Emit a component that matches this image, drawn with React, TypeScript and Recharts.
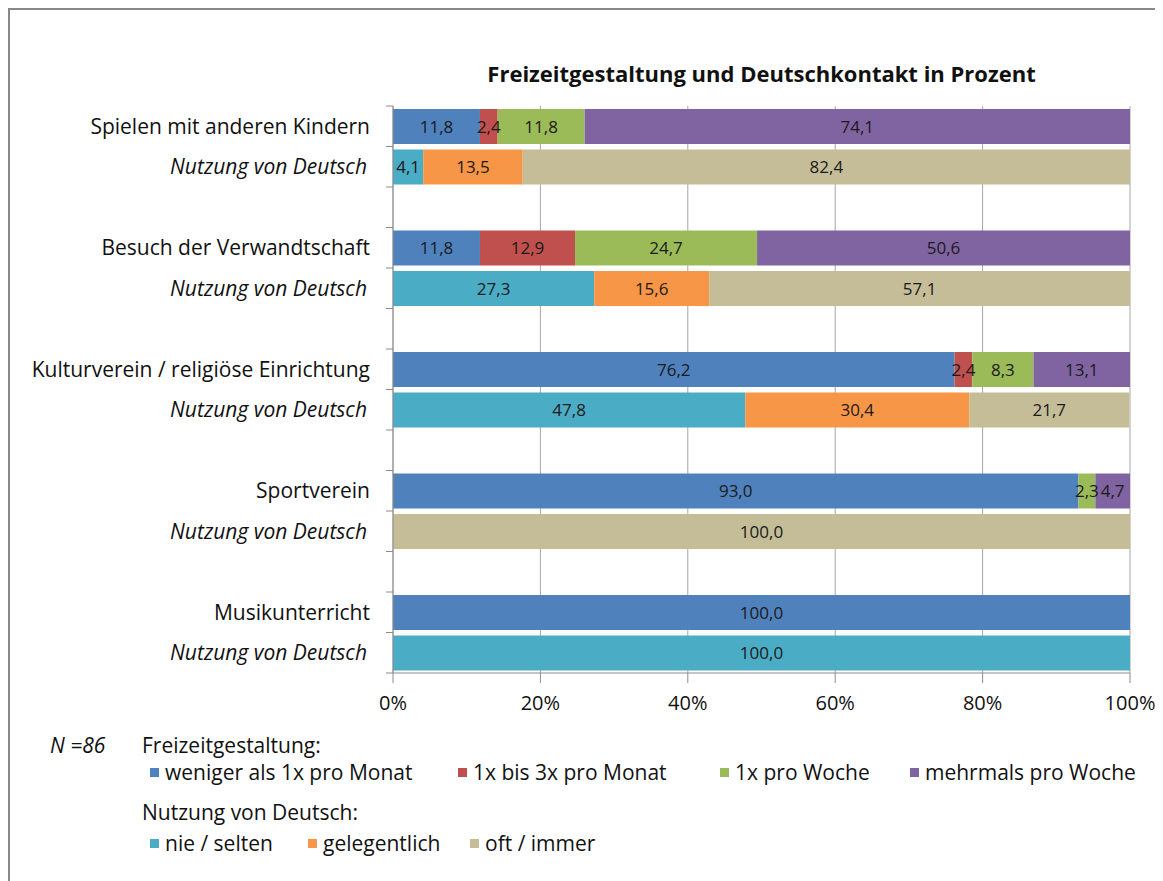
import { BarChart, Bar, XAxis, YAxis, CartesianGrid, LabelList } from "recharts";

const categories = [
  "Spielen mit anderen Kindern",
  "Besuch der Verwandtschaft",
  "Kulturverein / religiöse Einrichtung",
  "Sportverein",
  "Musikunterricht",
];
const deutschLabel = "Nutzung von Deutsch";

// Freizeitgestaltung
const weniger = [11.8, 11.8, 76.2, 93.0, 100.0];
const bis3 = [2.4, 12.9, 2.4, 0, 0];
const woche = [11.8, 24.7, 8.3, 2.3, 0];
const mehrmals = [74.1, 50.6, 13.1, 4.7, 0];

// Nutzung von Deutsch
const nie = [4.1, 27.3, 47.8, 0, 100.0];
const gelegentlich = [13.5, 15.6, 30.4, 0, 0];
const oft = [82.4, 57.1, 21.7, 100.0, 0];

const xTicks = [0, 20, 40, 60, 80, 100];

const freizeitSeries = [
  { key: "weniger", name: "weniger als 1x pro Monat", color: "#4F81BD" },
  { key: "bis3", name: "1x bis 3x pro Monat", color: "#C0504D" },
  { key: "woche", name: "1x pro Woche", color: "#9BBB59" },
  { key: "mehrmals", name: "mehrmals pro Woche", color: "#8064A2" },
];
const deutschSeries = [
  { key: "nie", name: "nie / selten", color: "#4BACC6" },
  { key: "gelegentlich", name: "gelegentlich", color: "#F79646" },
  { key: "oft", name: "oft / immer", color: "#C4BD97" },
];

const empty = { weniger: 0, bis3: 0, woche: 0, mehrmals: 0, nie: 0, gelegentlich: 0, oft: 0 };

const rows: any[] = [];
categories.forEach((c, i) => {
  rows.push({ ...empty, id: `f${i}`, label: c, italic: false, weniger: weniger[i], bis3: bis3[i], woche: woche[i], mehrmals: mehrmals[i] });
  rows.push({ ...empty, id: `d${i}`, label: deutschLabel, italic: true, nie: nie[i], gelegentlich: gelegentlich[i], oft: oft[i] });
  if (i < categories.length - 1) rows.push({ ...empty, id: `s${i}`, label: "", italic: false });
});

const FONT = "'Open Sans', Lato, sans-serif";
const AXIS = "#8c8c8c";
const PLOT_H = 567;
const BAND = PLOT_H / rows.length;

const fmt = (v: any) => (v ? Number(v).toFixed(1).replace(".", ",") : "");

const YTick = (props: any) => {
  const { x, y, payload, index } = props;
  const row = rows.find((r) => r.id === payload.value);
  const last = index === rows.length - 1;
  return (
    <g>
      <line x1={x - 7} x2={x} y1={y - BAND / 2} y2={y - BAND / 2} stroke={AXIS} />
      {last && <line x1={x - 7} x2={x} y1={y + BAND / 2} y2={y + BAND / 2} stroke={AXIS} />}
      <text
        x={x - (row?.italic ? 26 : 23)}
        y={y}
        dy="0.35em"
        textAnchor="end"
        fontSize={21}
        fontFamily={FONT}
        fontStyle={row?.italic ? "italic" : "normal"}
        fill="#111"
      >
        {row?.label}
      </text>
    </g>
  );
};

const LegendItem = ({ name, color, left }: { name: string; color: string; left: number }) => (
  <div style={{ position: "absolute", left, top: 0, display: "flex", alignItems: "center", whiteSpace: "nowrap" }}>
    <span style={{ width: 9, height: 9, background: color, display: "inline-block", marginRight: 6 }} />
    <span>{name}</span>
  </div>
);

const freizeitLeft = [142, 450, 712, 902];
const deutschLeft = [142, 300, 462];

export default function App() {
  return (
    <div style={{ position: "relative", width: 1155, height: 873, fontFamily: FONT, color: "#111" }}>
      <div style={{ position: "absolute", left: 0, top: 0, right: 0, bottom: 0, borderLeft: "2px solid #888", borderTop: "2px solid #888" }} />
      <div
        style={{
          position: "absolute",
          left: 385,
          width: 737,
          top: 51,
          lineHeight: "28px",
          textAlign: "center",
          fontWeight: 700,
          fontSize: 22,
        }}
      >
        Freizeitgestaltung und Deutschkontakt in Prozent
      </div>
      <div style={{ position: "absolute", left: 0, top: 0 }}>
        <BarChart
          width={1155}
          height={730}
          data={rows}
          layout="vertical"
          margin={{ top: 98, right: 33, bottom: 25, left: 0 }}
        >
          <CartesianGrid horizontal={false} stroke="#a6a6a6" />
          <XAxis
            type="number"
            domain={[0, 100]}
            ticks={xTicks}
            allowDataOverflow
            tickFormatter={(v) => `${v}%`}
            height={40}
            tickSize={10}
            tickMargin={13}
            stroke={AXIS}
            tick={{ fontSize: 20, fontFamily: FONT, fill: "#111" }}
          />
          <YAxis
            type="category"
            dataKey="id"
            width={385}
            interval={0}
            tickSize={0}
            tickMargin={0}
            tickLine={false}
            stroke={AXIS}
            tick={<YTick />}
          />
          {[...freizeitSeries, ...deutschSeries].map((s) => (
            <Bar key={s.key} dataKey={s.key} name={s.name} stackId="s" fill={s.color} barSize={35} isAnimationActive={false}>
              <LabelList dataKey={s.key} position="center" formatter={fmt} fontSize={17} fontFamily={FONT} fill="#1a1a1a" />
            </Bar>
          ))}
        </BarChart>
      </div>
      <div style={{ position: "absolute", left: 0, top: 723, width: 1155, fontSize: 21 }}>
        <div style={{ position: "absolute", left: 42, top: 0, fontStyle: "italic", lineHeight: "28px" }}>N =86</div>
        <div style={{ position: "absolute", left: 134, top: 0, lineHeight: "28px" }}>Freizeitgestaltung:</div>
        <div style={{ position: "absolute", left: 0, top: 27, lineHeight: "28px", width: "100%" }}>
          {freizeitSeries.map((s, i) => (
            <LegendItem key={s.key} name={s.name} color={s.color} left={freizeitLeft[i]} />
          ))}
        </div>
        <div style={{ position: "absolute", left: 134, top: 67, lineHeight: "28px" }}>Nutzung von Deutsch:</div>
        <div style={{ position: "absolute", left: 0, top: 98, lineHeight: "28px", width: "100%" }}>
          {deutschSeries.map((s, i) => (
            <LegendItem key={s.key} name={s.name} color={s.color} left={deutschLeft[i]} />
          ))}
        </div>
      </div>
    </div>
  );
}
